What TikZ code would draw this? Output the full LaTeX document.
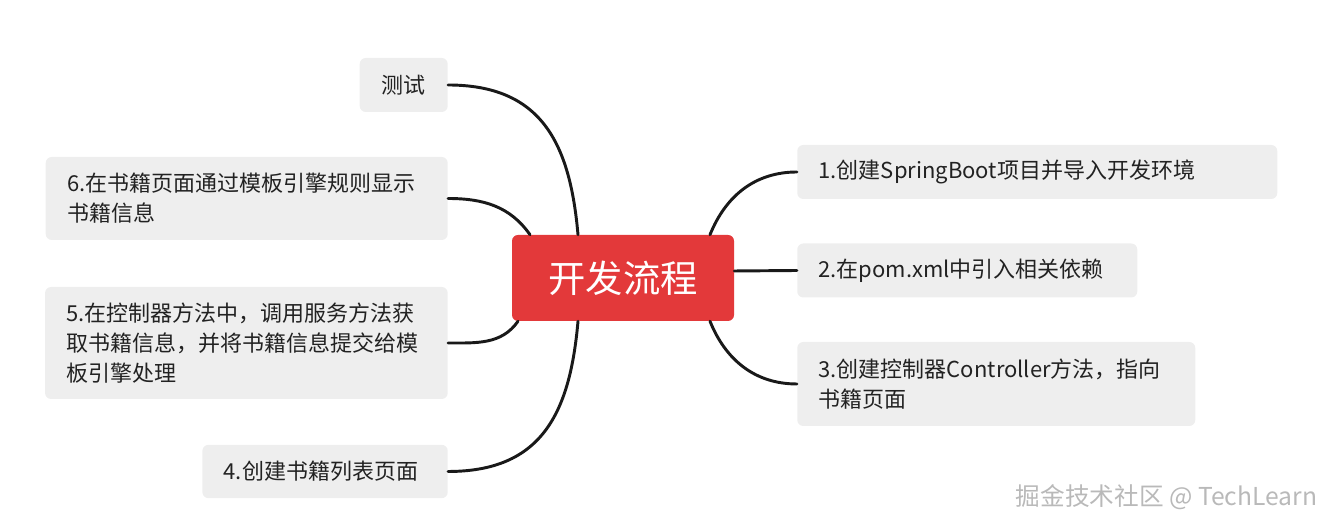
\documentclass[tikz,border=0pt]{standalone}
\usepackage{fontspec}
\setmainfont{Noto Sans CJK SC}
\usetikzlibrary{positioning}
\definecolor{rootred}{HTML}{E3393A}
\definecolor{leafgray}{HTML}{EEEEEE}
\definecolor{leaftext}{HTML}{222222}

\begin{document}
\begin{tikzpicture}[x=0.75pt,y=0.75pt,
    root/.style={fill=rootred, rounded corners=4.5pt, minimum width=166.5pt,
      minimum height=64.5pt, text=white, font=\fontsize{28pt}{32pt}\selectfont},
    leaf/.style={fill=leafgray, rounded corners=4.5pt, inner xsep=16pt, inner ysep=0pt,
      minimum height=40.5pt, align=left, text=leaftext,
      font=\fontsize{16.5pt}{22.5pt}\selectfont},
    branch/.style={line width=2.2pt, draw=black!90, line cap=round}]
    \useasboundingbox (0,0) rectangle (1339,530);

    \node[root] (flow) at (623,252) {开发流程};

    % right side
    \node[leaf, anchor=west, text width=328pt] (s1) at (797,358) {1.创建SpringBoot项目并导入开发环境};
    \node[leaf, anchor=west, text width=223pt] (s2) at (797,259.5) {2.在pom.xml中引入相关依赖};
    \node[leaf, anchor=west, text width=266.5pt, minimum height=63pt] (s3) at (797,146)
      {3.创建控制器Controller方法，指向\\书籍页面};

    % left side
    \node[leaf, anchor=east, text width=34pt] (test) at (448,445) {测试};
    \node[leaf, anchor=east, text width=269.5pt, minimum height=62.25pt] (s6) at (448,331.5)
      {6.在书籍页面通过模板引擎规则显示\\书籍信息};
    \node[leaf, anchor=east, text width=270pt, minimum height=84pt] (s5) at (448,187)
      {5.在控制器方法中，调用服务方法获\\取书籍信息，并将书籍信息提交给模\\板引擎处理};
    \node[leaf, anchor=east, text width=152pt, minimum height=40pt] (s4) at (448,58.5) {4.创建书籍列表页面};

    \path[branch]
    ([xshift=65.25pt]flow.north) edge[out=68, in=180] (s1.west)
    ([yshift=5.25pt]flow.east) edge (s2.west)
    ([xshift=65.25pt]flow.south) edge[out=-68, in=180] (s3.west)
    ([xshift=-33.75pt]flow.north) edge[out=95, in=0, looseness=1.2] (test.east)
    ([xshift=-69.75pt]flow.north) edge[out=125, in=0] (s6.east)
    ([xshift=-78.75pt]flow.south) edge[out=235, in=0] (s5.east)
    ([xshift=-33.75pt]flow.south) edge[out=265, in=0, looseness=1.2] (s4.east)
    ;

    \node[anchor=east, text=gray!55, font=\fontsize{18.5pt}{20pt}\selectfont] (mark) at (1322,33)
      {掘金技术社区 @ TechLearn};
\end{tikzpicture}
\end{document}
